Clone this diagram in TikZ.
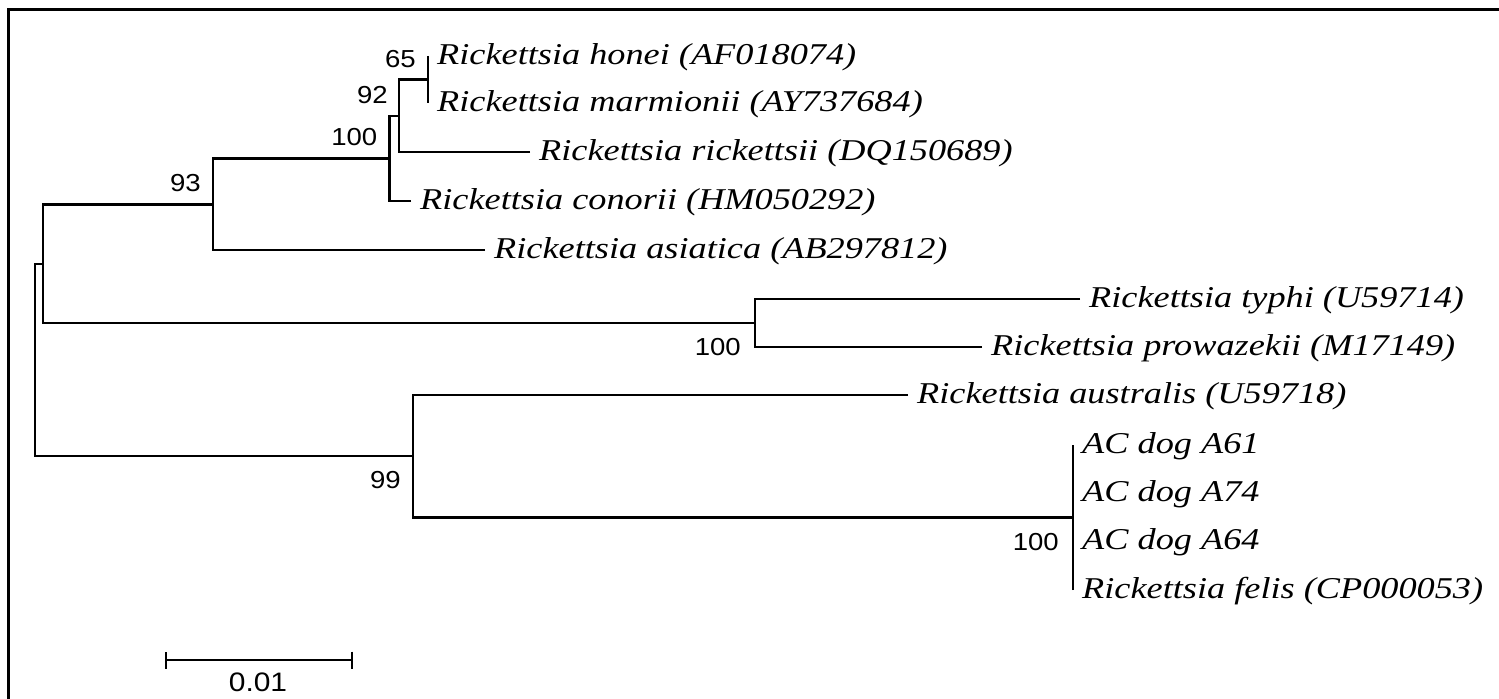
\documentclass[tikz,border=0pt]{standalone}
\usepackage{fontspec}
\setmainfont{Liberation Serif}
\newfontfamily\bootfont{Liberation Sans}[FakeStretch=1.12]
\newfontfamily\taxonfont{Liberation Serif}[FakeStretch=1.2]
\usetikzlibrary{arrows.meta, positioning}

\begin{document}
\begin{tikzpicture}[line width=0.024cm]
      % Styles
      \tikzset{
        taxon/.style={anchor=mid west, inner sep=0.08cm, font=\taxonfont\itshape\fontsize{8.6}{10}\selectfont},
        boot/.style={inner sep=0pt, font=\bootfont\fontsize{7}{8}\selectfont},
      }
      \useasboundingbox (0,0) rectangle (14.99,-6.99);
      % Frame
      \draw[line width=0.03cm] (0.08,-6.99) |- (14.99,-0.10);
      % Internal nodes
      \coordinate (root) at (0.35,-3.60);
      \coordinate (nA) at (0.43,-2.64);
      \coordinate (nB) at (2.13,-2.045);
      \coordinate (nD) at (3.895,-1.585);
      \coordinate (nE) at (3.99,-1.16);
      \coordinate (nF) at (4.28,-0.795);
      \coordinate (nC) at (7.55,-3.23);
      \coordinate (nG) at (4.13,-4.56);
      \coordinate (nH) at (10.73,-5.175);
      % Leaves
      \node[taxon] (honei) at (4.28,-0.56) {Rickettsia honei (AF018074)};
      \node[taxon] (marmionii) at (4.28,-1.03) {Rickettsia marmionii (AY737684)};
      \node[taxon] (rickettsii) at (5.30,-1.52) {Rickettsia rickettsii (DQ150689)};
      \node[taxon] (conorii) at (4.11,-2.01) {Rickettsia conorii (HM050292)};
      \node[taxon] (asiatica) at (4.85,-2.50) {Rickettsia asiatica (AB297812)};
      \node[taxon] (typhi) at (10.80,-2.99) {Rickettsia typhi (U59714)};
      \node[taxon] (prowazekii) at (9.82,-3.47) {Rickettsia prowazekii (M17149)};
      \node[taxon] (australis) at (9.08,-3.95) {Rickettsia australis (U59718)};
      \node[taxon] (dogA61) at (10.73,-4.45) {AC dog A61};
      \node[taxon] (dogA74) at (10.73,-4.93) {AC dog A74};
      \node[taxon] (dogA64) at (10.73,-5.41) {AC dog A64};
      \node[taxon] (felis) at (10.73,-5.90) {Rickettsia felis (CP000053)};
      % Branches
      \draw (honei.mid west) -| (nF);
      \draw (marmionii.mid west) -| (nF);
      \draw (nF) -| (nE);
      \draw (rickettsii.mid west) -| (nE);
      \draw (nE) -| (nD);
      \draw (conorii.mid west) -| (nD);
      \draw (nD) -| (nB);
      \draw (asiatica.mid west) -| (nB);
      \draw (nB) -| (nA);
      \draw (typhi.mid west) -| (nC);
      \draw (prowazekii.mid west) -| (nC);
      \draw (nC) -| (nA);
      \draw (nA) -| (root);
      \draw (australis.mid west) -| (nG);
      \draw (dogA61.mid west) -| (nH);
      \draw (dogA74.mid west) -| (nH);
      \draw (dogA64.mid west) -| (nH);
      \draw (felis.mid west) -| (nH);
      \draw (nH) -| (nG);
      \draw (nG) -| (root);
      % Bootstrap values
      \node[boot, above left=0.105cm and 0.11cm of nF] (bootF) {65};
      \node[boot, above left=0.11cm and 0.10cm of nE] (bootE) {92};
      \node[boot, above left=0.115cm and 0.11cm of nD] (bootD) {100};
      \node[boot, above left=0.115cm and 0.11cm of nB] (bootB) {93};
      \node[boot, below left=0.14cm and 0.13cm of nC] (bootC) {100};
      \node[boot, below left=0.14cm and 0.11cm of nG] (bootG) {99};
      \node[boot, below left=0.145cm and 0.13cm of nH] (bootH) {100};
      % Scale bar
      \coordinate (barL) at (1.65,-6.60);
      \coordinate (barR) at (3.53,-6.60);
      \draw[{Bar[width=0.17cm]}-{Bar[width=0.17cm]}] (barL) -- (barR);
      \node[boot, font=\bootfont\fontsize{7.6}{9}\selectfont] (barlabel) at (2.58,-6.82) {0.01};
\end{tikzpicture}
\end{document}
